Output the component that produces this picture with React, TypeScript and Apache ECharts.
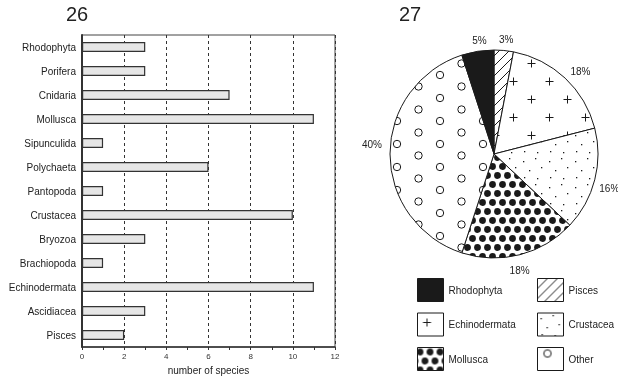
import React, { useEffect, useRef } from "react";
import * as echarts from "echarts";

const barCategories = [
  "Rhodophyta", "Porifera", "Cnidaria", "Mollusca", "Sipunculida", "Polychaeta", "Pantopoda",
  "Crustacea", "Bryozoa", "Brachiopoda", "Echinodermata", "Ascidiacea", "Pisces",
];
const barValues = [3, 3, 7, 11, 1, 6, 1, 10, 3, 1, 11, 3, 2];
const xTicks = [0, 2, 4, 6, 8, 10, 12];
const xAxisName = "number of species";

const pieNames = ["Pisces", "Echinodermata", "Crustacea", "Mollusca", "Other", "Rhodophyta"];
const pieValues = [3, 18, 16, 18, 40, 5];
const legendLeftNames = ["Rhodophyta", "Echinodermata", "Mollusca"];
const legendRightNames = ["Pisces", "Crustacea", "Other"];
const chartTitles = ["26", "27"];

const FONT = "'Liberation Sans', Arial, Helvetica, sans-serif";
const INK = "#1a1a1a";

type Draw = (ctx: CanvasRenderingContext2D, w: number, h: number) => void;

function tile(w: number, h: number, draw: Draw) {
  const c = document.createElement("canvas");
  c.width = w;
  c.height = h;
  const ctx = c.getContext("2d")!;
  ctx.fillStyle = "#ffffff";
  ctx.fillRect(0, 0, w, h);
  draw(ctx, w, h);
  return { image: c.toDataURL(), repeat: "repeat", imageWidth: w, imageHeight: h };
}

function wrapped(w: number, h: number, pts: number[][], fn: (x: number, y: number) => void) {
  for (const [x, y] of pts) {
    for (let dx = -1; dx <= 1; dx++) {
      for (let dy = -1; dy <= 1; dy++) fn(x + dx * w, y + dy * h);
    }
  }
}

function makePatterns(): Record<string, any> {
  const hatch = tile(10, 10, (ctx, w, h) => {
    ctx.strokeStyle = INK;
    ctx.lineWidth = 1;
    ctx.beginPath();
    for (let k = -1; k <= 1; k++) {
      ctx.moveTo(k * w - 1, h + 1);
      ctx.lineTo(k * w + w + 1, -1);
    }
    ctx.stroke();
  });
  const plus = tile(36, 36, (ctx, w, h) => {
    ctx.strokeStyle = INK;
    ctx.lineWidth = 1;
    ctx.beginPath();
    wrapped(w, h, [[9.5, 9.5], [27.5, 27.5]], (x, y) => {
      ctx.moveTo(x - 4, y);
      ctx.lineTo(x + 4, y);
      ctx.moveTo(x, y - 4);
      ctx.lineTo(x, y + 4);
    });
    ctx.stroke();
  });
  const dots = tile(26, 26, (ctx) => {
    ctx.fillStyle = INK;
    const pts = [[3, 5], [15, 2], [9, 14], [21, 11], [4, 21], [17, 22]];
    for (const [x, y] of pts) ctx.fillRect(x, y, 1.3, 1.3);
  });
  const blackDots = tile(10, 18, (ctx, w, h) => {
    ctx.fillStyle = INK;
    wrapped(w, h, [[2.5, 4.5], [7.5, 13.5]], (x, y) => {
      ctx.beginPath();
      ctx.arc(x, y, 3.4, 0, Math.PI * 2);
      ctx.fill();
    });
  });
  const rings = tile(43, 23, (ctx, w, h) => {
    ctx.strokeStyle = INK;
    ctx.lineWidth = 1;
    wrapped(w, h, [[10, 6], [31.5, 17.5]], (x, y) => {
      ctx.beginPath();
      ctx.arc(x, y, 3.7, 0, Math.PI * 2);
      ctx.stroke();
    });
  });
  return {
    Pisces: hatch,
    Echinodermata: plus,
    Crustacea: dots,
    Mollusca: blackDots,
    Other: rings,
    Rhodophyta: INK,
  };
}

export default function App() {
  const ref = useRef<HTMLDivElement>(null);

  useEffect(() => {
    if (!ref.current) return;
    const chart = echarts.init(ref.current, undefined, { renderer: "svg" });
    const patterns = makePatterns();
    const labelNudge: Record<string, number[]> = {
      Pisces: [1, 4],
      Echinodermata: [5, 4],
      Crustacea: [0, 5],
      Mollusca: [-4, 1],
      Other: [-3, -10],
      Rhodophyta: [4, 4],
    };

    const legendCommon = {
      orient: "vertical",
      top: 278,
      padding: 0,
      itemWidth: 26,
      itemHeight: 23,
      itemGap: 10.5,
      icon: "rect",
      selectedMode: false,
      itemStyle: { borderColor: INK, borderWidth: 1 },
      textStyle: { fontSize: 10, color: "#222", fontFamily: FONT },
    };

    const option: any = {
      animation: false,
      textStyle: { fontFamily: FONT },
      title: [
        { text: chartTitles[0], left: 66, top: 4, padding: 0, textStyle: { fontSize: 20, fontWeight: "normal", color: "#222", fontFamily: FONT } },
        { text: chartTitles[1], left: 399, top: 4, padding: 0, textStyle: { fontSize: 20, fontWeight: "normal", color: "#222", fontFamily: FONT } },
      ],
      legend: [
        { ...legendCommon, left: 417, data: legendLeftNames },
        { ...legendCommon, left: 537, data: legendRightNames },
      ],
      grid: {
        left: 82, right: 283, top: 35, bottom: 33,
        show: true, borderColor: "#444", borderWidth: 1, backgroundColor: "transparent",
      },
      xAxis: {
        type: "value",
        min: xTicks[0],
        max: xTicks[xTicks.length - 1],
        interval: xTicks[1] - xTicks[0],
        axisLine: { show: true, lineStyle: { color: "#333", width: 1.5 } },
        axisTick: { show: true, length: 3, lineStyle: { color: "#333" } },
        minorTick: { show: true, splitNumber: 2, length: 3, lineStyle: { color: "#333" } },
        splitLine: { show: true, lineStyle: { type: [3, 3], color: "#333", width: 1 } },
        axisLabel: { fontSize: 8, color: "#333", margin: 5, fontFamily: FONT },
        name: xAxisName,
        nameLocation: "middle",
        nameGap: 18,
        nameTextStyle: { fontSize: 10, color: "#222", fontFamily: FONT },
      },
      yAxis: {
        type: "category",
        data: barCategories,
        inverse: true,
        axisLine: { show: true, lineStyle: { color: "#333", width: 2 } },
        axisTick: { show: false },
        axisLabel: { fontSize: 10, color: "#222", margin: 6, fontFamily: FONT },
      },
      series: [
        {
          type: "bar",
          data: barValues,
          barWidth: 10,
          itemStyle: { color: "#e6e6e6", borderColor: "#333", borderWidth: 1.2 },
          emphasis: { disabled: true },
        },
        {
          type: "pie",
          center: [494, 154],
          radius: 104,
          startAngle: 90,
          clockwise: true,
          label: { show: false },
          labelLine: { show: false },
          emphasis: { disabled: true, scale: false },
          itemStyle: { borderColor: INK, borderWidth: 1 },
          data: pieNames.map((n, i) => ({ name: n, value: pieValues[i], itemStyle: { color: patterns[n] } })),
        },
        {
          type: "pie",
          center: [494, 154],
          radius: [104, 128],
          startAngle: 90,
          clockwise: true,
          silent: true,
          itemStyle: { color: "rgba(0,0,0,0)", borderWidth: 0 },
          label: { show: true, position: "inside", formatter: "{c}%", fontSize: 10, color: "#222", fontFamily: FONT },
          labelLine: { show: false },
          emphasis: { disabled: true, scale: false },
          data: pieNames.map((n, i) => ({ name: n, value: pieValues[i], label: { offset: labelNudge[n] } })),
        },
      ],
    };

    chart.setOption(option);
    return () => chart.dispose();
  }, []);

  return <div ref={ref} style={{ position: "fixed", left: 0, top: 0, width: 618, height: 380 }} />;
}
